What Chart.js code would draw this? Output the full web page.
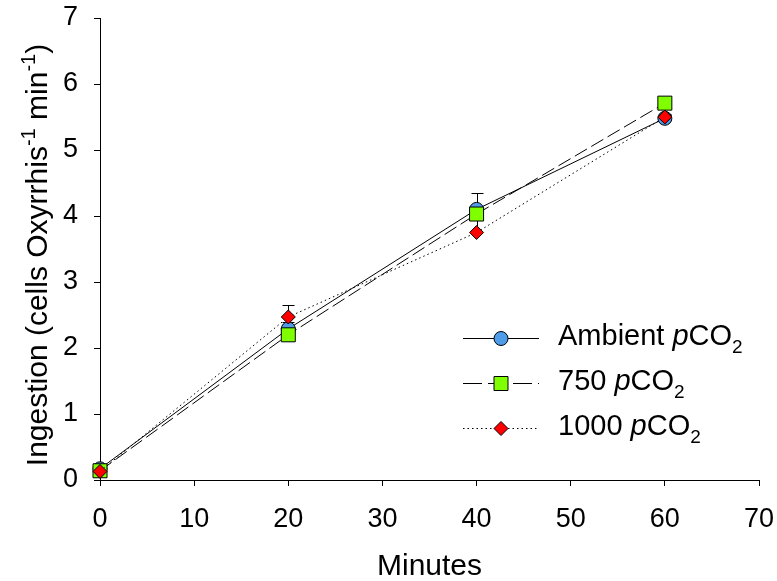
<!DOCTYPE html>
<html>
<head>
<meta charset="utf-8">
<script src="https://cdn.jsdelivr.net/npm/chart.js@4/dist/chart.umd.min.js"></script>
<style>
  html, body { margin: 0; padding: 0; background: #fff; }
  #chart { display: block; }
</style>
</head>
<body>
<canvas id="chart" width="777" height="581"></canvas>
<script>
// ingestion over time for three CO2 treatments (upper error bars only)
const minutes = [0, 20, 40, 60]
const ambient = [0.17, 2.29, 4.10, 5.48]
const ambientErr = [0.02, 0.10, 0.25, 0.05]
const co2_750 = [0.14, 2.20, 4.03, 5.71]
const co2_750Err = [0.02, 0.05, 0.08, 0.04]
const co2_1000 = [0.13, 2.47, 3.75, 5.50]
const co2_1000Err = [0.02, 0.18, 0.20, 0.04]
const xTicks = [0, 10, 20, 30, 40, 50, 60, 70]
const yTicks = [0, 1, 2, 3, 4, 5, 6, 7]

const FONT = "'Liberation Sans', Arial, sans-serif"
const TICK_SIZE = 27
const TITLE_SIZE = 30
const LEGEND_SIZE = 29

const series = [
    { name: "Ambient", values: ambient, err: ambientErr, style: "circle", radius: 7, fill: "#4f9de9", dash: [] },
    { name: "750", values: co2_750, err: co2_750Err, style: "rect", radius: 7, fill: "#80ff00", dash: [14, 5] },
    { name: "1000", values: co2_1000, err: co2_1000Err, style: "diamond", radius: 7, fill: "#ff0000", dash: [1.5, 3] },
]

function marker(ctx, s, x, y) {
    ctx.save()
    ctx.setLineDash([])
    ctx.fillStyle = s.fill
    ctx.strokeStyle = "#000"
    ctx.lineWidth = 1
    ctx.beginPath()
    if (s.style === "circle") {
        ctx.arc(x, y, s.radius, 0, Math.PI * 2)
    } else if (s.style === "rect") {
        ctx.rect(x - s.radius, y - s.radius, s.radius * 2, s.radius * 2)
    } else {
        ctx.moveTo(x, y - s.radius)
        ctx.lineTo(x + s.radius, y)
        ctx.lineTo(x, y + s.radius)
        ctx.lineTo(x - s.radius, y)
        ctx.closePath()
    }
    ctx.fill()
    ctx.stroke()
    ctx.restore()
}

// draws runs of [text, kind] where kind is "", "i", "sub" or "sup"
function richText(ctx, parts, x, y, size, measureOnly) {
    let w = 0
    for (const [t, kind] of parts) {
        const small = kind === "sub" || kind === "sup"
        const sz = small ? Math.round(size * 0.66) : size
        ctx.font = (kind === "i" ? "italic " : "") + sz + "px " + FONT
        const dy = kind === "sub" ? size * 0.26 : kind === "sup" ? -size * 0.4 : 0
        if (!measureOnly) ctx.fillText(t, x + w, y + dy)
        w += ctx.measureText(t).width
    }
    return w
}

// upper error bars, behind the markers
const errorBars = {
    id: "errorBars",
    beforeDatasetsDraw(chart) {
        const ctx = chart.ctx
        const xs = chart.scales.x, ys = chart.scales.y
        ctx.save()
        ctx.strokeStyle = "#000"
        ctx.lineWidth = 1
        series.forEach(s => {
            s.values.forEach((v, i) => {
                const px = Math.round(xs.getPixelForValue(minutes[i])) + 0.5
                const top = Math.round(ys.getPixelForValue(v + s.err[i])) + 0.5
                const mid = ys.getPixelForValue(v)
                ctx.beginPath()
                ctx.moveTo(px, mid); ctx.lineTo(px, top)
                ctx.moveTo(px - 6, top); ctx.lineTo(px + 6, top)
                ctx.stroke()
            })
        })
        ctx.restore()
    }
}

// axis titles and the legend, which need italics and sub/superscripts
const labels = {
    id: "labels",
    afterDraw(chart) {
        const ctx = chart.ctx
        const area = chart.chartArea
        ctx.save()
        ctx.fillStyle = "#000"
        ctx.textBaseline = "alphabetic"
        ctx.textAlign = "left"

        ctx.font = TITLE_SIZE + "px " + FONT
        const xt = "Minutes"
        ctx.fillText(xt, (area.left + area.right) / 2 - ctx.measureText(xt).width / 2, 575)

        const yParts = [["Ingestion (cells Oxyrrhis", ""], ["-1", "sup"], [" min", ""], ["-1", "sup"], [")", ""]]
        const yw = richText(ctx, yParts, 0, 0, TITLE_SIZE, true)
        ctx.save()
        ctx.translate(47, 255)
        ctx.rotate(-Math.PI / 2)
        richText(ctx, yParts, -yw / 2, 0, TITLE_SIZE)
        ctx.restore()

        const rows = [
            [["Ambient ", ""], ["p", "i"], ["CO", ""], ["2", "sub"]],
            [["750 ", ""], ["p", "i"], ["CO", ""], ["2", "sub"]],
            [["1000 ", ""], ["p", "i"], ["CO", ""], ["2", "sub"]],
        ]
        rows.forEach((parts, k) => {
            const base = 345 + k * 45
            const ly = Math.round(base - 7.5) + 0.5
            const s = series[k]
            ctx.save()
            ctx.strokeStyle = "#000"
            ctx.lineWidth = 1
            ctx.setLineDash(k === 1 ? [19, 6] : s.dash)
            ctx.beginPath()
            ctx.moveTo(463, ly)
            ctx.lineTo(539, ly)
            ctx.stroke()
            ctx.restore()
            marker(ctx, s, 501, ly)
            richText(ctx, parts, 558, base, LEGEND_SIZE)
        })
        ctx.restore()
    }
}

const markerStyle = { circle: "circle", rect: "rect", diamond: "rectRot" }

new Chart(document.getElementById("chart"), {
    type: "line",
    data: {
        datasets: series.map((s, k) => ({
            label: s.name,
            data: minutes.map((m, i) => ({ x: m, y: s.values[i] })),
            borderColor: "#000",
            borderWidth: 1,
            borderDash: s.dash,
            backgroundColor: s.fill,
            pointStyle: markerStyle[s.style],
            pointRadius: s.style === "rect" ? s.radius * Math.SQRT2 : s.radius,
            pointBackgroundColor: s.fill,
            pointBorderColor: "#000",
            pointBorderWidth: 1,
            tension: 0,
            fill: false,
            clip: false,
            order: 3 - k,
        })),
    },
    options: {
        responsive: false,
        animation: false,
        events: [],
        layout: { padding: { top: 18, right: 18, left: 0, bottom: 0 } },
        plugins: { legend: { display: false }, tooltip: { enabled: false } },
        scales: {
            x: {
                type: "linear",
                min: 0,
                max: 70,
                afterBuildTicks(s) { s.ticks = xTicks.map(v => ({ value: v })) },
                ticks: { font: { family: FONT, size: TICK_SIZE }, color: "#000", padding: 17, maxRotation: 0 },
                grid: { drawOnChartArea: false, drawTicks: true, tickLength: 6, color: "#000" },
                border: { color: "#000", width: 1 },
                afterFit(s) { s.height = 101; s.paddingLeft = 0; s.paddingRight = 0 },
            },
            y: {
                type: "linear",
                min: 0,
                max: 7,
                afterBuildTicks(s) { s.ticks = yTicks.map(v => ({ value: v })) },
                ticks: { font: { family: FONT, size: TICK_SIZE }, color: "#000", padding: 16 },
                grid: { drawOnChartArea: false, drawTicks: true, tickLength: 6, color: "#000" },
                border: { color: "#000", width: 1 },
                afterFit(s) { s.width = 100; s.paddingTop = 0; s.paddingBottom = 0 },
            },
        },
    },
    plugins: [errorBars, labels],
})
</script>
</body>
</html>
